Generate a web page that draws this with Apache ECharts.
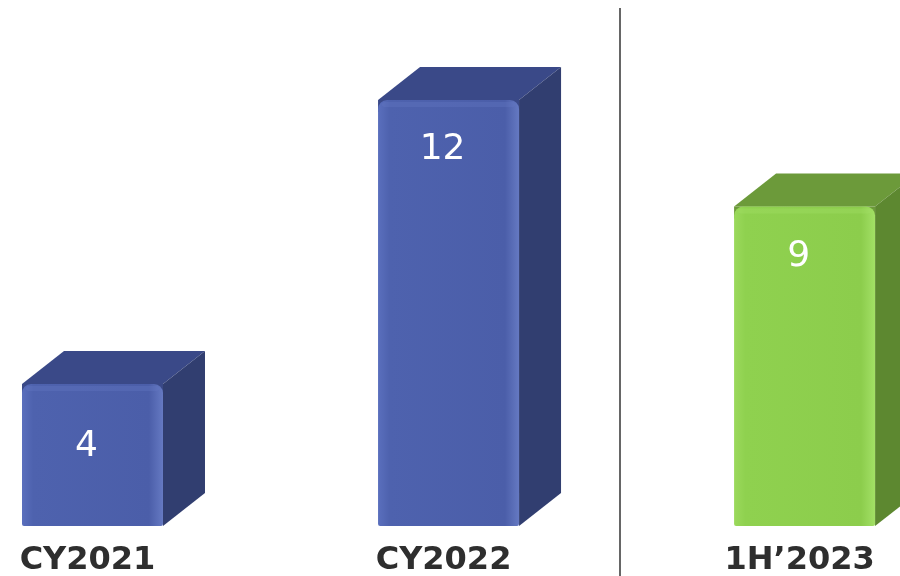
<!DOCTYPE html>
<html><head><meta charset="utf-8">
<script src="https://cdn.jsdelivr.net/npm/echarts@6/dist/echarts.min.js"></script>
<style>html,body{margin:0;padding:0;background:#fff}#c{width:900px;height:576px}</style>
</head><body><div id="c"></div>
<script>
const categories = ['CY2021', 'CY2022', '1H\u20192023'];
const values = [4, 12, 9];
const groups = ['blue', 'blue', 'green'];

const palette = {
  blue:  { front: ['#5a6fbd', '#4e62ae', '#4b5ea9'], top: '#3a4988', side: '#313e70', hi: '#6579c2' },
  green: { front: ['#9bd95c', '#8fd14f', '#8ccd4c'], top: '#6c9a3a', side: '#5d8830', hi: '#a3e066' }
};

const chart = echarts.init(document.getElementById('c'));
const DX = 42, DY = -33;

function renderItem(params, api) {
  const i = api.value(0), v = api.value(1);
  const top = api.coord([i, v]);
  const base = api.coord([i, 0]);
  const w = api.size([1, 0])[0] * 0.396;
  const x0 = top[0] - w / 2, x1 = top[0] + w / 2;
  const yT = top[1], yB = base[1];
  const h = yB - yT;
  const p = palette[groups[params.dataIndex]];
  const labelOff = h < 200 ? h * 0.44 : 50;
  const children = [
    { type: 'rect', shape: { x: x0, y: yT, width: w, height: 12 }, style: { fill: p.top } },
    { type: 'polygon', shape: { points: [[x0, yT], [x0 + DX, yT + DY], [x1 + DX, yT + DY], [x1, yT]] },
      style: { fill: p.top } },
    { type: 'polygon', shape: { points: [[x1, yT], [x1 + DX, yT + DY], [x1 + DX, yB + DY], [x1, yB]] },
      style: { fill: p.side } },
    { type: 'rect', shape: { x: x0, y: yT, width: w, height: h, r: [9, 9, 2, 2] },
      style: { fill: new echarts.graphic.LinearGradient(0, 0, 1, 0, [
        { offset: 0, color: p.front[0] }, { offset: 0.08, color: p.front[1] },
        { offset: 0.9, color: p.front[2] }, { offset: 1, color: p.hi }]) } },
    { type: 'rect', shape: { x: x0 + 4, y: yT + 2, width: w - 8, height: 5, r: 3 },
      style: { fill: p.hi, opacity: 0.35 } },
    { type: 'text', style: { text: String(v), x: top[0] - 6, y: yT + labelOff,
      fill: '#ffffff', font: '36px "DejaVu Sans"', align: 'center', verticalAlign: 'middle' } },
    { type: 'text', style: { text: categories[params.dataIndex], x: top[0] - 5, y: yB + 35,
      fill: '#2e2e2e', font: 'bold 32px "DejaVu Sans"', align: 'center', verticalAlign: 'middle' } }
  ];
  return { type: 'group', children };
}

chart.setOption({
  animation: false,
  grid: { left: 0, right: 0, top: 29, bottom: 50 },
  xAxis: { type: 'value', min: -0.2598, max: 2.268, show: false },
  yAxis: { type: 'value', min: 0, max: 14, show: false },
  graphic: [{ type: 'line', shape: { x1: 620, y1: 8, x2: 620, y2: 576 }, style: { stroke: '#333', lineWidth: 1.5 } }],
  series: [{
    type: 'custom',
    renderItem,
    clip: false,
    data: values.map((v, i) => [i, v])
  }]
});
</script></body></html>
